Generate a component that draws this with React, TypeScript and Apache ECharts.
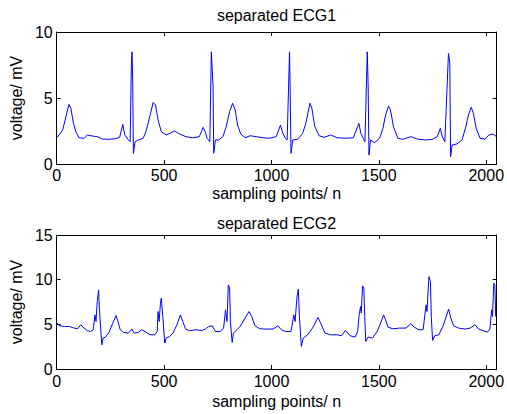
import React, { useEffect, useRef } from "react";
import * as echarts from "echarts";

const xTicks = [0, 500, 1000, 1500, 2000];
const sampleMax = 2048;

const ecg1Samples = [0, 5, 28, 43, 57, 66, 78, 89, 104, 127, 143, 166, 189, 212, 242, 273, 293, 308, 317, 334, 342, 348, 351, 354, 357, 365, 380, 403, 418, 437, 449, 460, 472, 487, 510, 533, 549, 572, 602, 633, 664, 682, 691, 700, 713, 720, 728, 731, 739, 754, 774, 789, 805, 819, 831, 842, 857, 877, 900, 930, 961, 992, 1022, 1042, 1053, 1065, 1073, 1084, 1087, 1091, 1099, 1122, 1145, 1160, 1179, 1188, 1202, 1222, 1245, 1275, 1306, 1344, 1381, 1407, 1416, 1427, 1435, 1446, 1450, 1454, 1461, 1480, 1503, 1519, 1531, 1545, 1554, 1568, 1588, 1611, 1649, 1680, 1718, 1749, 1772, 1786, 1795, 1807, 1824, 1830, 1834, 1841, 1864, 1887, 1905, 1917, 1930, 1940, 1953, 1971, 1994, 2012, 2032, 2048];
const ecg1Voltage = [2.07, 2.07, 2.58, 3.58, 4.52, 4.22, 3.08, 2.45, 1.99, 1.94, 2.2, 2.12, 2.07, 1.89, 1.87, 1.92, 2.02, 3.0, 2.2, 1.82, 1.69, 7.88, 8.5, 6.1, 0.8, 1.69, 1.82, 1.95, 2.58, 3.84, 4.67, 4.47, 3.33, 2.45, 2.2, 2.37, 2.5, 2.27, 2.07, 1.99, 2.07, 2.78, 2.45, 1.95, 1.69, 8.5, 5.86, 0.81, 1.82, 1.82, 2.07, 2.83, 3.96, 4.6, 4.09, 2.95, 2.27, 1.99, 2.14, 2.07, 1.99, 1.95, 2.07, 2.95, 2.32, 1.95, 1.82, 8.5, 5.6, 0.81, 1.82, 1.87, 2.32, 3.08, 4.6, 4.22, 2.83, 2.14, 2.02, 2.2, 1.99, 1.95, 1.99, 3.08, 2.32, 1.95, 1.69, 8.5, 6.0, 0.68, 1.82, 1.61, 1.95, 2.7, 3.71, 4.39, 4.09, 2.83, 1.95, 1.87, 2.07, 1.89, 1.82, 1.87, 2.07, 2.7, 2.07, 1.69, 8.38, 7.75, 0.55, 1.44, 1.52, 1.82, 2.83, 3.71, 4.3, 3.84, 2.7, 1.95, 1.87, 2.2, 2.27, 2.07];

const ecg2Samples = [0, 12, 35, 58, 81, 97, 112, 127, 143, 158, 170, 178, 183, 189, 195, 199, 210, 216, 227, 242, 258, 276, 285, 296, 311, 334, 351, 360, 380, 395, 411, 434, 457, 468, 472, 477, 483, 487, 494, 503, 510, 526, 541, 560, 576, 587, 600, 618, 648, 676, 693, 708, 724, 739, 762, 777, 786, 793, 799, 805, 809, 817, 823, 839, 854, 877, 895, 908, 923, 946, 976, 1007, 1030, 1046, 1065, 1091, 1104, 1110, 1119, 1125, 1130, 1139, 1148, 1168, 1191, 1217, 1229, 1249, 1275, 1306, 1326, 1344, 1366, 1389, 1401, 1409, 1415, 1418, 1424, 1430, 1434, 1439, 1450, 1470, 1492, 1508, 1522, 1531, 1542, 1565, 1596, 1626, 1649, 1664, 1687, 1706, 1715, 1720, 1724, 1733, 1740, 1744, 1750, 1760, 1779, 1798, 1825, 1835, 1848, 1871, 1902, 1925, 1948, 1963, 1986, 2006, 2017, 2025, 2029, 2035, 2040, 2044, 2048];
const ecg2Voltage = [5.2, 4.84, 4.76, 4.76, 4.58, 4.5, 4.95, 4.58, 4.28, 4.2, 4.39, 6.06, 5.32, 7.55, 8.86, 6.62, 2.71, 3.46, 3.57, 4.02, 4.95, 5.99, 5.32, 4.39, 4.09, 4.02, 4.47, 4.02, 4.09, 4.39, 4.2, 3.83, 3.83, 4.2, 6.43, 5.32, 7.37, 7.93, 5.88, 2.9, 3.46, 3.64, 4.02, 4.95, 6.06, 5.32, 4.47, 4.28, 4.39, 4.31, 4.47, 4.76, 4.84, 4.2, 4.2, 4.58, 6.62, 5.32, 9.42, 9.05, 5.14, 2.97, 4.02, 4.39, 4.76, 5.7, 6.43, 5.88, 4.84, 4.5, 4.47, 4.47, 4.84, 4.39, 4.2, 4.2, 6.06, 5.32, 8.11, 8.93, 5.88, 2.53, 3.46, 3.83, 4.58, 5.77, 5.14, 4.02, 3.83, 3.83, 3.72, 4.31, 3.72, 3.57, 4.2, 6.25, 6.99, 6.25, 9.3, 9.05, 5.88, 3.08, 3.57, 3.46, 4.2, 5.14, 6.06, 5.51, 4.69, 4.5, 4.58, 4.58, 5.06, 4.69, 4.39, 4.39, 6.25, 7.18, 6.43, 10.34, 9.78, 5.88, 3.2, 3.72, 3.83, 4.76, 6.7, 5.7, 4.84, 4.58, 4.47, 4.58, 4.95, 4.5, 4.28, 4.13, 4.47, 6.62, 5.88, 9.6, 9.41, 5.88, 5.88];

const titles = ["separated ECG1", "separated ECG2"];
const xName = "sampling points/ n";
const yName = "voltage/ mV";
const yMaxes = [10, 15];

const FONT = "Liberation Sans, Arial, Helvetica, sans-serif";
const FS = 16;

export default function App() {
  const ref = useRef<HTMLDivElement>(null);
  useEffect(() => {
    if (!ref.current) return;
    const chart = echarts.init(ref.current, null, { renderer: "svg" });
    const grids = [
      { left: 54, top: 32, width: 445, height: 132 },
      { left: 54, top: 235, width: 445, height: 134 },
    ];
    const axisLine = { show: true, onZero: false, lineStyle: { color: "#000", width: 1 } };
    const tick = { show: true, inside: true, length: 4, lineStyle: { color: "#000", width: 1 } };
    const xAxis: any[] = [];
    const yAxis: any[] = [];
    [0, 1].forEach((g) => {
      xAxis.push({
        type: "value", gridIndex: g, min: 0, max: sampleMax, interval: 500, position: "bottom",
        axisLine, axisTick: tick, splitLine: { show: false },
        axisLabel: {
          color: "#000", fontFamily: FONT, fontSize: FS, margin: g === 0 ? 3 : 4,
          showMaxLabel: false,
          formatter: (v: number) => (xTicks.includes(v) ? String(v) : ""),
        },
        name: xName, nameLocation: "middle", nameGap: g === 0 ? 21 : 24,
        nameTextStyle: { color: "#000", fontFamily: FONT, fontSize: FS },
      });
      xAxis.push({
        type: "value", gridIndex: g, min: 0, max: sampleMax, interval: 500, position: "top",
        axisLine, axisTick: tick, splitLine: { show: false }, axisLabel: { show: false },
      });
      yAxis.push({
        type: "value", gridIndex: g, min: 0, max: yMaxes[g], interval: 5, position: "left",
        axisLine, axisTick: tick, splitLine: { show: false },
        axisLabel: { color: "#000", fontFamily: FONT, fontSize: FS, margin: 4 },
        name: yName, nameLocation: "middle", nameGap: 28,
        nameTextStyle: { color: "#000", fontFamily: FONT, fontSize: FS },
      });
      yAxis.push({
        type: "value", gridIndex: g, min: 0, max: yMaxes[g], interval: 5, position: "right",
        axisLine, axisTick: tick, splitLine: { show: false }, axisLabel: { show: false },
      });
    });
    const series = [
      { s: ecg1Samples, v: ecg1Voltage, x: 0, y: 0 },
      { s: ecg2Samples, v: ecg2Voltage, x: 2, y: 2 },
    ].map((d) => ({
      type: "line",
      xAxisIndex: d.x,
      yAxisIndex: d.y,
      data: d.s.map((n, i) => [n, d.v[i]]),
      showSymbol: false,
      symbol: "none",
      lineStyle: { color: "#0000ff", width: 1 },
      clip: true,
    }));
    chart.setOption({
      animation: false,
      backgroundColor: "#fff",
      grid: grids,
      xAxis,
      yAxis,
      series,
      graphic: [
        { type: "text", x: 276.5, y: 15, style: { text: titles[0], fill: "#000", font: `${FS}px ${FONT}`, textAlign: "center", textVerticalAlign: "middle" } },
        { type: "text", x: 276.5, y: 223, style: { text: titles[1], fill: "#000", font: `${FS}px ${FONT}`, textAlign: "center", textVerticalAlign: "middle" } },
      ],
    });
    return () => chart.dispose();
  }, []);
  return (
    <div
      ref={ref}
      style={{ position: "fixed", left: 0, top: 0, width: 507, height: 414, background: "#fff" }}
    />
  );
}
